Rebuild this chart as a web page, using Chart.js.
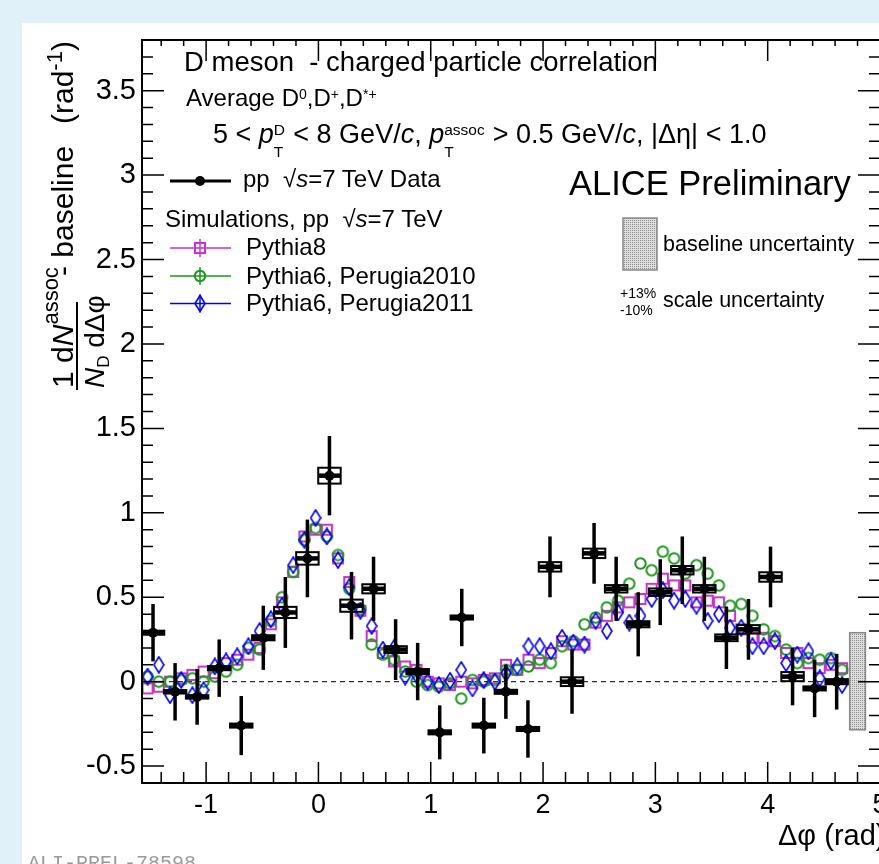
<!DOCTYPE html>
<html>
<head>
<meta charset="utf-8">
<title>D meson - charged particle correlation</title>
<script src="https://cdn.jsdelivr.net/npm/chart.js@4.4.1/dist/chart.umd.min.js"></script>
<style>
  html, body { margin: 0; padding: 0; }
  body { width: 879px; height: 864px; overflow: hidden; position: relative; background: #e0f1f9; }
  #panel { position: absolute; left: 22px; top: 23px; width: 900px; height: 900px; background: #fff; }
  #plot { position: absolute; left: 0; top: 0; }
  .t { position: absolute; font-family: "Liberation Sans", Arial, sans-serif; line-height: 1; white-space: nowrap; color: #000; }
  .sp { font-size: 14px; position: relative; top: -7px; }
  .stk { display: inline-block; position: relative; height: 1px; }
  .stk span { position: absolute; left: 0; line-height: 1; font-size: 15.5px; }
  #ytitle { position: absolute; left: 40px; top: 390px; width: 360px; height: 80px; transform-origin: 0 0; transform: rotate(-90deg); }
  #tag { position: absolute; left: 28px; top: 854px; font-family: "Liberation Mono", monospace; font-size: 20px; line-height: 1; color: #9a9a9a; }
</style>
</head>
<body>
<div id="panel"></div>
<canvas id="plot" width="900" height="864"></canvas>

<!-- header text -->
<div class="t" style="left:184px;top:47.7px;font-size:27.5px">D meson&nbsp; - charged particle correlation</div>
<div class="t" style="left:186px;top:86.4px;font-size:24px">Average D<span class="sp">0</span>,D<span class="sp">+</span>,D<span class="sp">*+</span></div>
<div class="t" style="left:213px;top:121.4px;font-size:27px">5 &lt; <i>p</i><span class="stk" style="width:12px"><span style="top:-20px">D</span><span style="top:2px">T</span></span> &lt; 8 GeV/<i>c</i>, <i>p</i><span class="stk" style="width:41px"><span style="top:-20px">assoc</span><span style="top:2px">T</span></span> &gt; 0.5 GeV/<i>c</i>, |&Delta;&eta;| &lt; 1.0</div>
<div class="t" style="left:569px;top:165.8px;font-size:34.5px">ALICE Preliminary</div>

<!-- legend text -->
<div class="t" style="left:243px;top:167px;font-size:24px">pp &nbsp;&radic;<i>s</i>=7 TeV Data</div>
<div class="t" style="left:165px;top:207px;font-size:24px">Simulations, pp &nbsp;&radic;<i>s</i>=7 TeV</div>
<div class="t" style="left:246px;top:234.7px;font-size:24px">Pythia8</div>
<div class="t" style="left:246px;top:263.7px;font-size:24px">Pythia6, Perugia2010</div>
<div class="t" style="left:246px;top:291.4px;font-size:24px">Pythia6, Perugia2011</div>
<div class="t" style="left:663px;top:233.5px;font-size:21.5px">baseline uncertainty</div>
<div class="t" style="left:620px;top:285.8px;font-size:14px">+13%</div>
<div class="t" style="left:620px;top:303.1px;font-size:14px">-10%</div>
<div class="t" style="left:663px;top:290.1px;font-size:21.5px">scale uncertainty</div>

<!-- axis titles -->
<div id="ytitle">
  <div class="t" style="left:2px;top:7.6px;font-size:30px">1 d<i>N</i><span style="font-size:22px;position:relative;top:-15px">assoc</span></div>
  <div style="position:absolute;left:0;top:36px;width:88px;height:2px;background:#000"></div>
  <div class="t" style="left:2px;top:41.3px;font-size:28px"><i>N</i><span style="font-size:17px;position:relative;top:5px">D</span> d&Delta;&phi;</div>
  <div class="t" style="left:114px;top:7.6px;font-size:30px">- baseline</div>
  <div class="t" style="left:266px;top:7.6px;font-size:30px">(rad<span style="font-size:22px;position:relative;top:-11px">-1</span>)</div>
</div>
<div class="t" style="left:778px;top:820.5px;font-size:29px">&Delta;&phi; (rad)</div>
<div id="tag">ALI-PREL-78598</div>

<script>
// binning: data 32 bins, simulations 63 bins, both over [-pi/2, 3pi/2]
var phiMin = -Math.PI / 2;
var phiSpan = 2 * Math.PI;
var dataBins = 32;
var mcBins = 63;

// pp 7 TeV data (rad^-1)
var dataY = [0.29, -0.06, -0.09, 0.08, -0.26, 0.26, 0.41, 0.73, 1.22, 0.45, 0.55, 0.19, 0.06, -0.30, 0.38, -0.26,
    -0.06, -0.28, 0.68, 0.00, 0.76, 0.55, 0.34, 0.53, 0.66, 0.55, 0.26, 0.31, 0.62, 0.03, -0.04, 0.00];
var dataStat = [0.17, 0.17, 0.165, 0.17, 0.175, 0.19, 0.21, 0.23, 0.235, 0.20, 0.19, 0.18, 0.17, 0.16, 0.17, 0.165,
    0.16, 0.17, 0.18, 0.19, 0.18, 0.19, 0.19, 0.195, 0.20, 0.19, 0.185, 0.18, 0.18, 0.17, 0.17, 0.165];
var dataSys = [0.012, 0.01, 0.01, 0.012, 0.012, 0.015, 0.033, 0.037, 0.047, 0.036, 0.027, 0.02, 0.015, 0.012, 0.012, 0.012,
    0.012, 0.012, 0.028, 0.026, 0.028, 0.022, 0.018, 0.022, 0.025, 0.022, 0.02, 0.025, 0.028, 0.027, 0.012, 0.015];

// simulations
var pythia8 = [-0.04, -0.03, 0.00, 0.02, 0.04, 0.06, 0.05, 0.11, 0.13, 0.16,
    0.20, 0.34, 0.47, 0.65, 0.86, 0.90, 0.90, 0.73, 0.59, 0.42,
    0.27, 0.17, 0.12, 0.09, 0.07, 0.00, -0.01, -0.02, 0.00, -0.01,
    0.01, 0.02, 0.10, 0.07, 0.13, 0.11, 0.17, 0.24, 0.22, 0.22,
    0.35, 0.39, 0.44, 0.47, 0.49, 0.55, 0.61, 0.57, 0.57, 0.47,
    0.48, 0.47, 0.39, 0.31, 0.26, 0.26, 0.24, 0.17, 0.17, 0.11,
    0.08, 0.10, 0.08];
var perugia2010 = [0.03, 0.00, 0.00, 0.01, 0.02, 0.00, 0.03, 0.06, 0.10, 0.20,
    0.19, 0.36, 0.50, 0.65, 0.84, 0.91, 0.86, 0.75, 0.55, 0.43,
    0.22, 0.16, 0.13, 0.06, 0.00, -0.02, -0.03, -0.01, -0.10, 0.01,
    0.00, 0.01, 0.07, 0.07, 0.09, 0.13, 0.11, 0.21, 0.24, 0.34,
    0.38, 0.44, 0.48, 0.58, 0.70, 0.66, 0.77, 0.73, 0.64, 0.69,
    0.64, 0.57, 0.45, 0.46, 0.39, 0.31, 0.27, 0.19, 0.11, 0.14,
    0.13, 0.14, 0.07];
var perugia2011 = [0.03, 0.10, -0.08, 0.01, -0.08, -0.05, 0.09, 0.12, 0.15, 0.21,
    0.30, 0.37, 0.45, 0.69, 0.84, 0.97, 0.86, 0.72, 0.56, 0.42,
    0.33, 0.19, 0.20, 0.03, 0.04, 0.00, -0.02, 0.005, 0.07, -0.04,
    0.01, 0.00, 0.05, 0.09, 0.21, 0.21, 0.18, 0.26, 0.23, 0.22,
    0.36, 0.30, 0.41, 0.35, 0.39, 0.49, 0.54, 0.48, 0.49, 0.45,
    0.36, 0.40, 0.32, 0.32, 0.21, 0.21, 0.24, 0.11, 0.16, 0.18,
    0.02, 0.12, -0.02];

// baseline uncertainty band, drawn at the right end of the axis
var baselineBand = [-0.285, 0.29];
var baselineBoxX = [4.73, 4.87];

var magenta = '#cc33cc', green = '#1a991a', blue = '#0000ff';

function binCenter(i, n) {
    return phiMin + (i + 0.5) * phiSpan / n;
}
function toPoints(vals, n) {
    return vals.map(function (v, i) { return {x: binCenter(i, n), y: v}; });
}

function marker(w, h, draw) {
    var c = document.createElement('canvas');
    c.width = w; c.height = h;
    draw(c.getContext('2d'));
    return c;
}
function squarePath(g, cx, cy) { g.strokeRect(cx - 5, cy - 5, 10, 10); }
function circlePath(g, cx, cy) { g.beginPath(); g.arc(cx, cy, 5.2, 0, 2 * Math.PI); g.stroke(); }
function diamondPath(g, cx, cy) {
    g.beginPath();
    g.moveTo(cx, cy - 8); g.lineTo(cx + 5, cy); g.lineTo(cx, cy + 8); g.lineTo(cx - 5, cy);
    g.closePath(); g.stroke();
}
var sqMarker = marker(14, 14, function (g) { g.strokeStyle = magenta; g.lineWidth = 2; squarePath(g, 7, 7); });
var circMarker = marker(15, 15, function (g) { g.strokeStyle = green; g.lineWidth = 2; circlePath(g, 7.5, 7.5); });
var diaMarker = marker(12, 18, function (g) { g.strokeStyle = blue; g.lineWidth = 1.6; diamondPath(g, 6, 9); });

var stipple = (function () {
    var c = document.createElement('canvas');
    c.width = 2; c.height = 2;
    var g = c.getContext('2d');
    g.fillStyle = '#dedede'; g.fillRect(0, 0, 2, 2);
    g.fillStyle = '#8e8e8e'; g.fillRect(0, 0, 1, 1);
    return c;
})();

var halfBin = Math.PI / dataBins;   // horizontal error = half the bin width
var boxHalf = 0.1;

var decor = {
    id: 'decor',
    beforeDatasetDraw: function (chart, args) {
        if (args.index !== 0) return;
        var ctx = chart.ctx, a = chart.chartArea, x = chart.scales.x, y = chart.scales.y;
        ctx.save();
        ctx.beginPath();
        ctx.rect(a.left, a.top, a.right - a.left, a.bottom - a.top);
        ctx.clip();
        ctx.strokeStyle = '#000';
        dataY.forEach(function (v, i) {
            var phi = binCenter(i, dataBins);
            var px = x.getPixelForValue(phi), py = y.getPixelForValue(v);
            ctx.lineWidth = 3.5;
            ctx.beginPath();
            ctx.moveTo(px, y.getPixelForValue(v + dataStat[i]));
            ctx.lineTo(px, y.getPixelForValue(v - dataStat[i]));
            ctx.stroke();
            ctx.lineWidth = 4.5;
            ctx.beginPath();
            ctx.moveTo(x.getPixelForValue(phi - halfBin), py);
            ctx.lineTo(x.getPixelForValue(phi + halfBin), py);
            ctx.stroke();
            var bx0 = x.getPixelForValue(phi - boxHalf), bx1 = x.getPixelForValue(phi + boxHalf);
            var by0 = y.getPixelForValue(v + dataSys[i]), by1 = y.getPixelForValue(v - dataSys[i]);
            ctx.lineWidth = 2;
            ctx.strokeRect(bx0, by0, bx1 - bx0, by1 - by0);
        });
        ctx.restore();
    },
    afterDatasetsDraw: function (chart) {
        var ctx = chart.ctx, a = chart.chartArea, x = chart.scales.x, y = chart.scales.y;
        ctx.save();
        // baseline uncertainty box
        var bx0 = x.getPixelForValue(baselineBoxX[0]), bx1 = x.getPixelForValue(baselineBoxX[1]);
        var by0 = y.getPixelForValue(baselineBand[1]), by1 = y.getPixelForValue(baselineBand[0]);
        ctx.fillStyle = ctx.createPattern(stipple, 'repeat');
        ctx.fillRect(bx0, by0, bx1 - bx0, by1 - by0);
        ctx.strokeStyle = '#888'; ctx.lineWidth = 1.5;
        ctx.strokeRect(bx0, by0, bx1 - bx0, by1 - by0);
        // legend box
        ctx.fillRect(623, 218, 34, 52);
        ctx.strokeRect(623, 218, 34, 52);

        // ticks on all four sides
        ctx.strokeStyle = '#000';
        ctx.lineWidth = 1.5;
        ctx.beginPath();
        var k;
        for (k = Math.ceil(x.min * 5 - 1e-6); k <= Math.floor(x.max * 5 + 1e-6); k++) {
            var px = x.getPixelForValue(k / 5), xm = k % 5 === 0;
            ctx.moveTo(px, a.bottom); ctx.lineTo(px, a.bottom - (xm ? 21 : 11));
            ctx.moveTo(px, a.top); ctx.lineTo(px, a.top + (xm ? 21 : 6));
        }
        for (k = Math.ceil(y.min * 10 - 1e-6); k <= Math.floor(y.max * 10 + 1e-6); k++) {
            var py = y.getPixelForValue(k / 10), ym = k % 5 === 0;
            ctx.moveTo(a.left, py); ctx.lineTo(a.left + (ym ? 22 : 11), py);
            ctx.moveTo(a.right, py); ctx.lineTo(a.right - (ym ? 22 : 11), py);
        }
        ctx.stroke();
        ctx.lineWidth = 2;
        ctx.strokeRect(a.left, a.top, a.right - a.left, a.bottom - a.top);

        // legend symbols
        ctx.strokeStyle = '#000'; ctx.lineWidth = 3;
        ctx.beginPath(); ctx.moveTo(170, 181); ctx.lineTo(231, 181); ctx.stroke();
        ctx.fillStyle = '#000';
        ctx.beginPath(); ctx.arc(200, 181, 5, 0, 2 * Math.PI); ctx.fill();
        [[magenta, 248, squarePath], [green, 276, circlePath], [blue, 303.5, diamondPath]].forEach(function (e) {
            ctx.strokeStyle = e[0]; ctx.lineWidth = 1.5;
            ctx.beginPath();
            ctx.moveTo(170, e[1]); ctx.lineTo(231, e[1]);
            ctx.moveTo(200, e[1] - 9); ctx.lineTo(200, e[1] + 9);
            ctx.stroke();
            ctx.lineWidth = e[2] === diamondPath ? 1.6 : 2;
            e[2](ctx, 200, e[1]);
        });
        ctx.restore();
    }
};

var tickFont = {family: "'Liberation Sans', Arial, sans-serif", size: 27};

var chart = new Chart(document.getElementById('plot').getContext('2d'), {
    type: 'scatter',
    data: {
        datasets: [{
            label: 'pp \u221As=7 TeV Data',
            data: toPoints(dataY, dataBins),
            pointStyle: 'circle',
            pointRadius: 5,
            backgroundColor: '#000',
            borderWidth: 0
        }, {
            label: 'Pythia6, Perugia2011',
            data: toPoints(perugia2011, mcBins),
            pointStyle: diaMarker,
            pointRadius: 5
        }, {
            label: 'Pythia6, Perugia2010',
            data: toPoints(perugia2010, mcBins),
            pointStyle: circMarker,
            pointRadius: 5
        }, {
            label: 'Pythia8',
            data: toPoints(pythia8, mcBins),
            pointStyle: sqMarker,
            pointRadius: 5
        }, {
            label: 'zero',
            data: [{x: phiMin, y: 0}, {x: baselineBoxX[0], y: 0}],
            showLine: true,
            pointRadius: 0,
            borderColor: '#000',
            borderWidth: 1,
            borderDash: [5, 4]
        }]
    },
    options: {
        responsive: false,
        animation: false,
        devicePixelRatio: 1,
        events: [],
        layout: {padding: {left: 0, right: 20, top: 40, bottom: 0}},
        plugins: {legend: {display: false}, tooltip: {enabled: false}},
        scales: {
            x: {
                type: 'linear',
                min: phiMin,
                max: 5,
                afterFit: function (s) { s.height = 81; },
                grid: {display: false, drawTicks: false},
                border: {display: false},
                ticks: {
                    stepSize: 1, includeBounds: false, autoSkip: false, maxRotation: 0,
                    padding: 6, color: '#000', font: tickFont,
                    callback: function (v) { return String(v); }
                }
            },
            y: {
                type: 'linear',
                min: -0.6,
                max: 3.8,
                afterFit: function (s) { s.width = 142; },
                grid: {display: false, drawTicks: false},
                border: {display: false},
                ticks: {
                    stepSize: 0.5, includeBounds: false, autoSkip: false,
                    padding: 6, color: '#000', font: {family: tickFont.family, size: 29},
                    callback: function (v) { return String(v); }
                }
            }
        }
    },
    plugins: [decor]
});
</script>
</body>
</html>
